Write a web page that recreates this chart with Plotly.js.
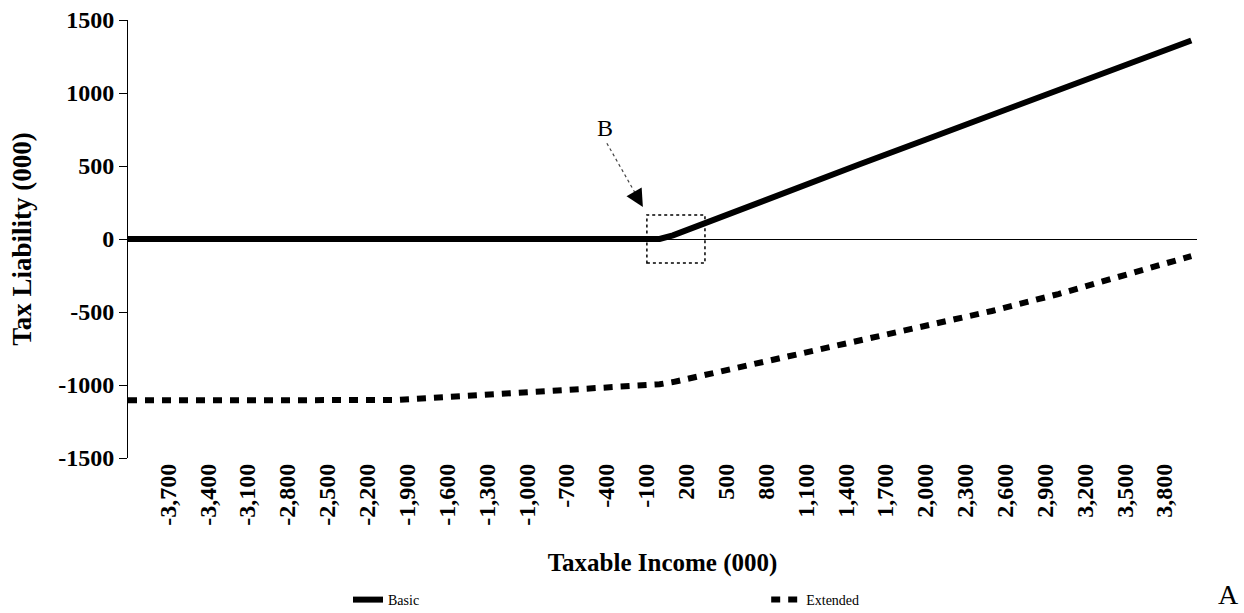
<!DOCTYPE html>
<html>
<head>
<meta charset="utf-8">
<script src="https://cdn.plot.ly/plotly-3.0.1.min.js"></script>
<style>
  html, body { margin: 0; padding: 0; background: #fff; }
  #chart { width: 1244px; height: 613px; }
</style>
</head>
<body>
<div id="chart"></div>
<script>
// Taxable income (000)
var income = [-4000, -3500, -3000, -2500, -2000, -1500, -1000, -500, 0, 100, 200, 300, 500, 1000, 1500, 2000, 2500, 3000, 3500, 4000];
// Tax liability (000) - Basic
var basic = [0, 0, 0, 0, 0, 0, 0, 0, 0, 25, 60, 100, 170, 340, 510, 680, 850, 1020, 1190, 1360];
// Tax liability (000) - Extended
var extended = [-1105, -1105, -1105, -1105, -1103, -1077, -1050, -1024, -995, -980, -960, -940, -898, -797, -698, -595, -493, -377, -242, -117];
// x tick labels
var xTickVals = [-3700, -3400, -3100, -2800, -2500, -2200, -1900, -1600, -1300, -1000, -700, -400, -100, 200, 500, 800, 1100, 1400, 1700, 2000, 2300, 2600, 2900, 3200, 3500, 3800];
var xTickText = ["-3,700", "-3,400", "-3,100", "-2,800", "-2,500", "-2,200", "-1,900", "-1,600", "-1,300", "-1,000", "-700", "-400", "-100", "200", "500", "800", "1,100", "1,400", "1,700", "2,000", "2,300", "2,600", "2,900", "3,200", "3,500", "3,800"];
var yTickVals = [-1500, -1000, -500, 0, 500, 1000, 1500];
var yTickText = ["-1500", "-1000", "-500", "0", "500", "1000", "1500"];

var serif = "Liberation Serif, Times New Roman, serif";

var traces = [
  {
    x: income, y: basic, type: "scatter", mode: "lines", name: "Basic",
    line: { color: "#000", width: 6 }, legend: "legend"
  },
  {
    x: income, y: extended, type: "scatter", mode: "lines", name: "Extended",
    line: { color: "#000", width: 6, dash: "9px,8px" }, legend: "legend2"
  }
];

var legendCommon = {
  orientation: "h", xanchor: "left", yref: "container", y: 0.0212, yanchor: "middle",
  font: { family: serif, size: 14, color: "#000" }, bgcolor: "rgba(0,0,0,0)"
};

var layout = {
  width: 1244, height: 613,
  margin: { l: 128, r: 47, t: 20, b: 155 },
  paper_bgcolor: "#fff", plot_bgcolor: "#fff",
  showlegend: true,
  font: { family: serif, color: "#000" },
  xaxis: {
    range: [-4000, 4043], automargin: false,
    tickmode: "array", tickvals: xTickVals, ticktext: xTickText,
    tickangle: -90, ticks: "", showgrid: false, zeroline: false, showline: false,
    tickfont: { family: serif, size: 24, color: "#000", weight: "bold" },
    title: { text: "<b>Taxable Income (000)</b>", font: { family: serif, size: 25, color: "#000" }, standoff: 28 }
  },
  yaxis: {
    range: [-1500, 1500], automargin: false,
    tickmode: "array", tickvals: yTickVals, ticktext: yTickText,
    ticks: "outside", ticklen: 8, tickcolor: "#000", tickwidth: 1,
    showline: true, linecolor: "#000", linewidth: 1,
    showgrid: false, zeroline: true, zerolinecolor: "#000", zerolinewidth: 1,
    tickfont: { family: serif, size: 24, color: "#000", weight: "bold" },
    title: { text: "<b>Tax Liability (000)</b>", font: { family: serif, size: 27, color: "#000" }, standoff: 18 }
  },
  legend: Object.assign({ x: 0.2058 }, legendCommon),
  legend2: Object.assign({ x: 0.597 }, legendCommon),
  shapes: [
    { type: "rect", xref: "x", yref: "y", x0: -96, x1: 341, y0: -165, y1: 165,
      line: { color: "#000", width: 1.5, dash: "dot" }, fillcolor: "rgba(0,0,0,0)" },
    { type: "line", xref: "x", yref: "y", x0: -397, y0: 656, x1: -150, y1: 260,
      line: { color: "#444", width: 1.2, dash: "dot" } }
  ],
  annotations: [
    { x: -410, y: 759, xref: "x", yref: "y", text: "B", showarrow: false,
      font: { family: serif, size: 24, color: "#000" } },
    { x: -126, y: 219, xref: "x", yref: "y", text: "", showarrow: true,
      ax: -160, ay: 272, axref: "x", ayref: "y",
      arrowhead: 2, arrowsize: 3.5, arrowwidth: 1, arrowcolor: "#000" },
    { x: 1.041, xanchor: "right", y: -0.352, yanchor: "bottom", xref: "paper", yref: "paper",
      text: "A", showarrow: false,
      font: { family: serif, size: 28, color: "#000" } }
  ]
};

Plotly.newPlot("chart", traces, layout, { displayModeBar: false, staticPlot: true });
</script>
</body>
</html>
